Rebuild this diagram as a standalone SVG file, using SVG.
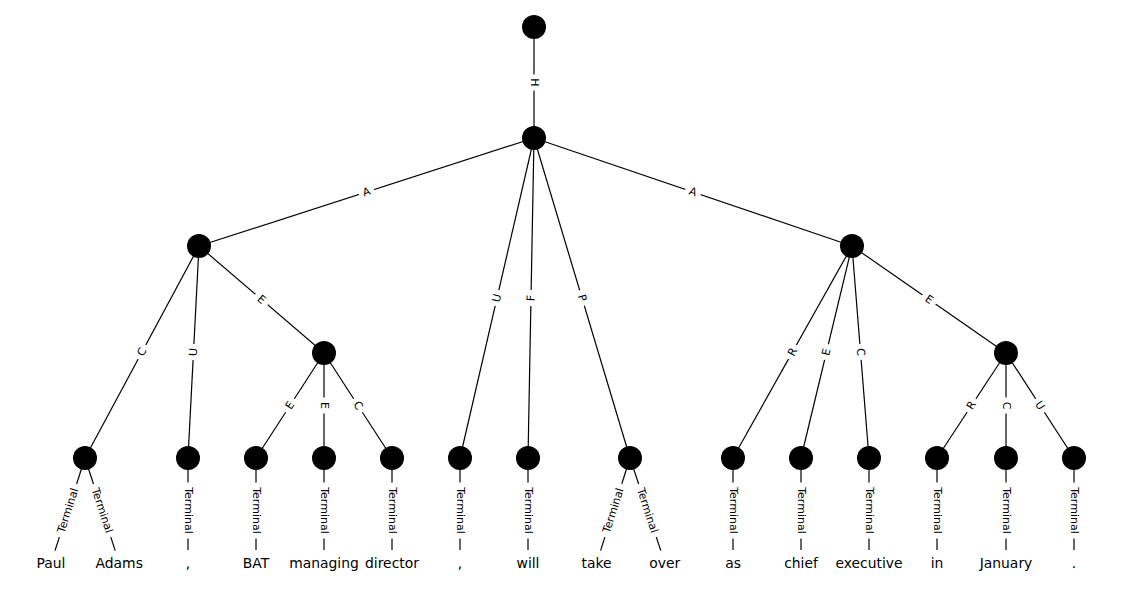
<svg xmlns="http://www.w3.org/2000/svg" width="1125" height="592" viewBox="0 0 1125 592">
  <style>
    .edge { stroke: #000; stroke-width: 1.2; fill: none; }
    .node { fill: #000; }
    .lbl-bg { fill: #fff; stroke: #fff; }
    .lbl { font-family: "DejaVu Sans", sans-serif; font-size: 11px; text-anchor: middle; dominant-baseline: central; fill: #000; }
    .word { font-family: "DejaVu Sans", sans-serif; font-size: 13.9px; text-anchor: middle; fill: #000; }
  </style>
  <defs>
    <!-- label backgrounds, centred on the label anchor -->
    <rect id="bg1" class="lbl-bg" x="-7.5" y="-8" width="15" height="16" rx="3"/>
    <rect id="bgT" class="lbl-bg" x="-27.5" y="-8" width="55" height="16" rx="3"/>
  </defs>

  <rect width="1125" height="592" fill="#fff"/>

  <!-- connectors -->
  <g id="connectors">
    <line class="edge" x1="534" y1="27" x2="534" y2="138"/>
    <line class="edge" x1="534" y1="138" x2="199" y2="246"/>
    <line class="edge" x1="534" y1="138" x2="852" y2="246"/>
    <line class="edge" x1="534" y1="138" x2="460" y2="458"/>
    <line class="edge" x1="534" y1="138" x2="528" y2="458"/>
    <line class="edge" x1="534" y1="138" x2="630" y2="458"/>
    <line class="edge" x1="199" y1="246" x2="85" y2="458"/>
    <line class="edge" x1="199" y1="246" x2="188" y2="458"/>
    <line class="edge" x1="199" y1="246" x2="324" y2="353"/>
    <line class="edge" x1="324" y1="353" x2="256" y2="458"/>
    <line class="edge" x1="324" y1="353" x2="324" y2="458"/>
    <line class="edge" x1="324" y1="353" x2="392" y2="458"/>
    <line class="edge" x1="852" y1="246" x2="733" y2="458"/>
    <line class="edge" x1="852" y1="246" x2="801" y2="458"/>
    <line class="edge" x1="852" y1="246" x2="869" y2="458"/>
    <line class="edge" x1="852" y1="246" x2="1006" y2="353"/>
    <line class="edge" x1="1006" y1="353" x2="937" y2="458"/>
    <line class="edge" x1="1006" y1="353" x2="1006" y2="458"/>
    <line class="edge" x1="1006" y1="353" x2="1074" y2="458"/>
    <!-- terminal edges down to the words -->
    <line class="edge" x1="85" y1="458" x2="55" y2="550.6"/>
    <line class="edge" x1="85" y1="458" x2="115.2" y2="550.6"/>
    <line class="edge" x1="188" y1="458" x2="188" y2="550"/>
    <line class="edge" x1="256" y1="458" x2="256" y2="550"/>
    <line class="edge" x1="324" y1="458" x2="324" y2="550"/>
    <line class="edge" x1="392" y1="458" x2="392" y2="550"/>
    <line class="edge" x1="460" y1="458" x2="460" y2="550"/>
    <line class="edge" x1="528" y1="458" x2="528" y2="550"/>
    <line class="edge" x1="630" y1="458" x2="600.6" y2="550.6"/>
    <line class="edge" x1="630" y1="458" x2="660.8" y2="550.6"/>
    <line class="edge" x1="733" y1="458" x2="733" y2="550"/>
    <line class="edge" x1="801" y1="458" x2="801" y2="550"/>
    <line class="edge" x1="869" y1="458" x2="869" y2="550"/>
    <line class="edge" x1="937" y1="458" x2="937" y2="550"/>
    <line class="edge" x1="1006" y1="458" x2="1006" y2="550"/>
    <line class="edge" x1="1074" y1="458" x2="1074" y2="550"/>

    <!-- edge labels, turned along their edges -->
    <g transform="translate(534 82.5) rotate(90)"><use href="#bg1"/><text class="lbl">H</text></g>
    <g transform="translate(366.5 192) rotate(-17.87)"><use href="#bg1"/><text class="lbl">A</text></g>
    <g transform="translate(693 192) rotate(18.76)"><use href="#bg1"/><text class="lbl">A</text></g>
    <g transform="translate(497 298) rotate(-76.98)"><use href="#bg1"/><text class="lbl">U</text></g>
    <g transform="translate(531 298) rotate(-88.93)"><use href="#bg1"/><text class="lbl">F</text></g>
    <g transform="translate(582 298) rotate(73.3)"><use href="#bg1"/><text class="lbl">P</text></g>
    <g transform="translate(142 352) rotate(-61.73)"><use href="#bg1"/><text class="lbl">C</text></g>
    <g transform="translate(193.5 352) rotate(-87.03)"><use href="#bg1"/><text class="lbl">U</text></g>
    <g transform="translate(261.5 299.5) rotate(40.56)"><use href="#bg1"/><text class="lbl">E</text></g>
    <g transform="translate(290 405.5) rotate(-57.07)"><use href="#bg1"/><text class="lbl">E</text></g>
    <g transform="translate(324 405.5) rotate(90)"><use href="#bg1"/><text class="lbl">E</text></g>
    <g transform="translate(358 405.5) rotate(57.07)"><use href="#bg1"/><text class="lbl">C</text></g>
    <g transform="translate(792.5 352) rotate(-60.7)"><use href="#bg1"/><text class="lbl">R</text></g>
    <g transform="translate(826.5 352) rotate(-76.47)"><use href="#bg1"/><text class="lbl">E</text></g>
    <g transform="translate(860.5 352) rotate(85.42)"><use href="#bg1"/><text class="lbl">C</text></g>
    <g transform="translate(929 299.5) rotate(34.79)"><use href="#bg1"/><text class="lbl">E</text></g>
    <g transform="translate(971.5 405.5) rotate(-57.07)"><use href="#bg1"/><text class="lbl">R</text></g>
    <g transform="translate(1006 405.5) rotate(90)"><use href="#bg1"/><text class="lbl">C</text></g>
    <g transform="translate(1040 405.5) rotate(57.07)"><use href="#bg1"/><text class="lbl">U</text></g>

    <g transform="translate(68 510.5) rotate(-72.06)"><use href="#bgT"/><text class="lbl">Terminal</text></g>
    <g transform="translate(102.1 510.5) rotate(72.06)"><use href="#bgT"/><text class="lbl">Terminal</text></g>
    <g transform="translate(188 510.5) rotate(90)"><use href="#bgT"/><text class="lbl">Terminal</text></g>
    <g transform="translate(256 510.5) rotate(90)"><use href="#bgT"/><text class="lbl">Terminal</text></g>
    <g transform="translate(324 510.5) rotate(90)"><use href="#bgT"/><text class="lbl">Terminal</text></g>
    <g transform="translate(392 510.5) rotate(90)"><use href="#bgT"/><text class="lbl">Terminal</text></g>
    <g transform="translate(460 510.5) rotate(90)"><use href="#bgT"/><text class="lbl">Terminal</text></g>
    <g transform="translate(528 510.5) rotate(90)"><use href="#bgT"/><text class="lbl">Terminal</text></g>
    <g transform="translate(613.3 510.5) rotate(-72.06)"><use href="#bgT"/><text class="lbl">Terminal</text></g>
    <g transform="translate(647.4 510.5) rotate(72.06)"><use href="#bgT"/><text class="lbl">Terminal</text></g>
    <g transform="translate(733 510.5) rotate(90)"><use href="#bgT"/><text class="lbl">Terminal</text></g>
    <g transform="translate(801 510.5) rotate(90)"><use href="#bgT"/><text class="lbl">Terminal</text></g>
    <g transform="translate(869 510.5) rotate(90)"><use href="#bgT"/><text class="lbl">Terminal</text></g>
    <g transform="translate(937 510.5) rotate(90)"><use href="#bgT"/><text class="lbl">Terminal</text></g>
    <g transform="translate(1006 510.5) rotate(90)"><use href="#bgT"/><text class="lbl">Terminal</text></g>
    <g transform="translate(1074 510.5) rotate(90)"><use href="#bgT"/><text class="lbl">Terminal</text></g>
  </g>

  <!-- inner and leaf nodes -->
  <g id="n-root"><circle class="node" cx="534" cy="27" r="12"/></g>
  <g id="n-main"><circle class="node" cx="534" cy="138" r="12"/></g>
  <g id="n-subj"><circle class="node" cx="199" cy="246" r="12"/></g>
  <g id="n-pred"><circle class="node" cx="852" cy="246" r="12"/></g>
  <g id="n-bat"><circle class="node" cx="324" cy="353" r="12"/></g>
  <g id="n-jan"><circle class="node" cx="1006" cy="353" r="12"/></g>
  <g id="n-paul-adams"><circle class="node" cx="85" cy="458" r="12"/></g>
  <g id="n-comma1"><circle class="node" cx="188" cy="458" r="12"/></g>
  <g id="n-bat-leaf"><circle class="node" cx="256" cy="458" r="12"/></g>
  <g id="n-managing"><circle class="node" cx="324" cy="458" r="12"/></g>
  <g id="n-director"><circle class="node" cx="392" cy="458" r="12"/></g>
  <g id="n-comma2"><circle class="node" cx="460" cy="458" r="12"/></g>
  <g id="n-will"><circle class="node" cx="528" cy="458" r="12"/></g>
  <g id="n-take-over"><circle class="node" cx="630" cy="458" r="12"/></g>
  <g id="n-as"><circle class="node" cx="733" cy="458" r="12"/></g>
  <g id="n-chief"><circle class="node" cx="801" cy="458" r="12"/></g>
  <g id="n-executive"><circle class="node" cx="869" cy="458" r="12"/></g>
  <g id="n-in"><circle class="node" cx="937" cy="458" r="12"/></g>
  <g id="n-january"><circle class="node" cx="1006" cy="458" r="12"/></g>
  <g id="n-period"><circle class="node" cx="1074" cy="458" r="12"/></g>

  <!-- terminal words -->
  <g id="w-paul"><text class="word" x="51" y="568">Paul</text></g>
  <g id="w-adams"><text class="word" x="119.2" y="568">Adams</text></g>
  <g id="w-comma1"><text class="word" x="188" y="568">,</text></g>
  <g id="w-bat"><text class="word" x="256" y="568">BAT</text></g>
  <g id="w-managing"><text class="word" x="324" y="568">managing</text></g>
  <g id="w-director"><text class="word" x="392" y="568">director</text></g>
  <g id="w-comma2"><text class="word" x="460" y="568">,</text></g>
  <g id="w-will"><text class="word" x="528" y="568">will</text></g>
  <g id="w-take"><text class="word" x="596.6" y="568">take</text></g>
  <g id="w-over"><text class="word" x="664.8" y="568">over</text></g>
  <g id="w-as"><text class="word" x="733" y="568">as</text></g>
  <g id="w-chief"><text class="word" x="801" y="568">chief</text></g>
  <g id="w-executive"><text class="word" x="869" y="568">executive</text></g>
  <g id="w-in"><text class="word" x="937" y="568">in</text></g>
  <g id="w-january"><text class="word" x="1006" y="568">January</text></g>
  <g id="w-period"><text class="word" x="1074" y="568">.</text></g>
</svg>
